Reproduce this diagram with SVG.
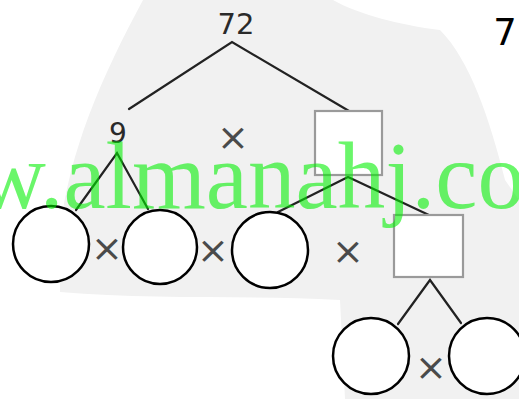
<svg xmlns="http://www.w3.org/2000/svg" width="519" height="399" viewBox="0 0 519 399">
<style>
.num{font-family:"DejaVu Sans",sans-serif;fill:#2a2a2a;text-anchor:middle}
.op{font-family:"DejaVu Sans",sans-serif;fill:#4a4a4a;text-anchor:middle;font-size:38px}
.circ{fill:#fff;stroke:#000;stroke-width:2.5}
.box{fill:#fff;stroke:#9a9a9a;stroke-width:2.2}
.edge{stroke:#222;stroke-width:2.2;fill:none;stroke-linecap:round}
.wm{font-family:"Liberation Serif",serif;font-size:95px;fill:#00f000;opacity:0.58}
</style>
<rect width="519" height="399" fill="#fff"/>
<path d="M143,0 L333,0 C360,15 400,25 440,30 C470,60 490,120 505,180 L519,200 L519,399 L345,399 L340,300 C250,295 150,300 60,292 L60,230 C70,150 100,80 143,0 Z" fill="#f1f1f1"/>
<g id="connectors">
<path class="edge" d="M129,109 L232,42 L349,111"/>
<path class="edge" d="M76,210 L117,153 L148,209"/>
<path class="edge" d="M278,212 L348,177 L431,216"/>
<path class="edge" d="M398,324 L430,280 L461,323"/>
</g>
<g id="n72"><text class="num" x="236" y="34" font-size="29">72</text></g>
<g id="n9"><text class="num" x="118" y="143" font-size="28">9</text></g>
<g id="op1"><text class="op" x="233" y="150">×</text></g>
<g id="box1"><rect class="box" x="315" y="111" width="67" height="64"/></g>
<g id="c1"><circle class="circ" cx="51" cy="244" r="38"/></g>
<g id="op2"><text class="op" x="107" y="261">×</text></g>
<g id="c2"><circle class="circ" cx="160" cy="247" r="37"/></g>
<g id="op3"><text class="op" x="213" y="263">×</text></g>
<g id="c3"><circle class="circ" cx="270" cy="250" r="38"/></g>
<g id="op4"><text class="op" x="348" y="264">×</text></g>
<g id="box2"><rect class="box" x="394" y="215" width="69" height="62"/></g>
<g id="c4"><circle class="circ" cx="371" cy="356" r="38"/></g>
<g id="op5"><text class="op" x="431" y="380">×</text></g>
<g id="c5"><circle class="circ" cx="487" cy="356" r="38"/></g>
<g id="label7"><text x="505" y="45" font-family="'DejaVu Sans',sans-serif" font-size="37" fill="#000" text-anchor="middle">7</text></g>
<text class="wm" x="-160" y="208">www.almanahj.com</text>
</svg>
